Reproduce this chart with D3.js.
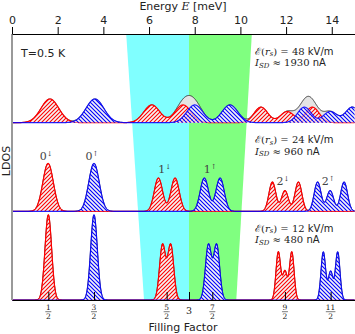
<!DOCTYPE html>
<html>
<head>
<meta charset="utf-8" />
<title>LDOS vs energy</title>
<style>
  body { margin: 0; background: #fff; }
  svg { display: block; }
  text { font-family: "DejaVu Sans", sans-serif; fill: #222; }
  .math { font-family: "DejaVu Serif", serif; }
  .axis path, .axis line { stroke: #000; }
  .axis text { font-size: 11px; fill: #222; }
</style>
<script src="https://d3js.org/d3.v7.min.js"></script>
</head>
<body>
<script>

// energy axis (meV)
let energyTicks = [0, 2, 4, 6, 8, 10, 12, 14];

// filling factor ticks, drawn at these energies
let fillLabels = ["1/2", "3/2", "5/2", "3", "7/2", "9/2", "11/2"];
let fillEnergies = [1.59, 3.59, 6.77, 7.75, 8.77, 11.95, 13.95];

// panels, top to bottom
let fields = [48, 24, 12];         // kV/m
let currents = [1930, 960, 480];   // nA

// Landau level of each peak in the lists below
let peakLevel = [0, 1, 1, 2, 2, 2];

// peak widths (meV) for level 0, 1, 2 in each panel
let widths = [
    [0.39, 0.35, 0.30],
    [0.23, 0.18, 0.15],
    [0.145, 0.13, 0.10]
];

// spin down (red) peaks: centre (meV) and height (fraction of panel)
let downE = [
    [1.66, 6.12, 7.49, 10.9, 12.05, 13.15],
    [1.58, 6.41, 7.14, 11.4, 11.95, 12.54],
    [1.59, 6.59, 6.95, 11.66, 11.95, 12.25]
];
let downH = [
    [0.267, 0.20, 0.20, 0.175, 0.125, 0.175],
    [0.54, 0.375, 0.375, 0.33, 0.233, 0.33],
    [0.96, 0.62, 0.62, 0.54, 0.32, 0.54]
];

// spin up (blue) peaks
let upE = [
    [3.63, 8.0, 9.54, 12.8, 13.93, 14.9],
    [3.59, 8.42, 9.11, 13.38, 13.93, 14.54],
    [3.59, 8.6, 8.96, 13.63, 13.95, 14.26]
];
let upH = [
    [0.267, 0.20, 0.20, 0.175, 0.125, 0.175],
    [0.54, 0.375, 0.375, 0.33, 0.233, 0.33],
    [0.96, 0.62, 0.62, 0.54, 0.32, 0.54]
];

// level labels (middle panel)
let levelNames = ["0", "0", "1", "1", "2", "2"];
let levelSpins = ["\u2193", "\u2191", "\u2193", "\u2191", "\u2193", "\u2191"];
let levelLabelE = [1.58, 3.59, 6.77, 8.77, 11.95, 13.93];
let levelLabelY = [0.58, 0.58, 0.43, 0.43, 0.30, 0.30];

// shaded regions: [top left, bottom left, top right, bottom right] in meV
let cyanBand = [5.0, 5.78, 7.75, 7.75];
let greenBand = [7.75, 7.75, 10.5, 9.82];

// layout
let W = 355, H = 334;
let mLeft = 12, mRight = 354.6, mTop = 34, mBottom = 300;
let panelH = (mBottom - mTop) / 3;

let x = d3.scaleLinear().domain([0, 15]).range([mLeft, mRight]);

let svg = d3.select("body").append("svg")
    .attr("width", W)
    .attr("height", H);

// hatch patterns
let defs = svg.append("defs");
function hatch(id, color, up) {
    let p = defs.append("pattern")
        .attr("id", id)
        .attr("patternUnits", "userSpaceOnUse")
        .attr("width", 4)
        .attr("height", 4);
    p.append("rect").attr("width", 4).attr("height", 4)
        .attr("fill", "#fff").attr("fill-opacity", 0.6);
    let d = up ? "M-1,1 l2,-2 M0,4 l4,-4 M3,5 l2,-2"
               : "M-1,3 l2,2 M0,0 l4,4 M3,-1 l2,2";
    p.append("path").attr("d", d)
        .attr("stroke", color).attr("stroke-width", 1.1);
}
hatch("hatchRed", "#ff0000", true);
hatch("hatchBlue", "#0000ff", false);

// shaded bands
function band(b, color) {
    let pts = [[x(b[0]), mTop], [x(b[2]), mTop], [x(b[3]), mBottom], [x(b[1]), mBottom]];
    svg.append("polygon")
        .attr("points", pts.map(p => p.join(",")).join(" "))
        .attr("fill", color);
}
band(cyanBand, "#80ffff");
band(greenBand, "#80ff80");

// energy grid for the curves
let grid = d3.range(0, 15.0001, 0.01);

function ldos(es, hs, sig) {
    return grid.map(e => {
        let v = 0;
        es.forEach((c, i) => {
            let s = sig[peakLevel[i]];
            v += hs[i] * Math.exp(-(e - c) * (e - c) / (2 * s * s));
        });
        return [e, v];
    });
}

fields.forEach((f, k) => {
    let base = mTop + panelH * (k + 1);
    let y = d3.scaleLinear().domain([0, 1]).range([base, base - panelH]);

    let down = ldos(downE[k], downH[k], widths[k]);
    let up = ldos(upE[k], upH[k], widths[k]);
    let total = down.map((d, i) => [d[0], d[1] + up[i][1]]);

    let area = d3.area().x(d => x(d[0])).y0(base).y1(d => y(d[1]));
    let line = d3.line().x(d => x(d[0])).y(d => y(d[1]));

    let g = svg.append("g");

    g.append("path").attr("d", area(total))
        .attr("fill", "#e4e4e4");
    g.append("path").attr("d", line(total))
        .attr("fill", "none").attr("stroke", "#333").attr("stroke-width", 1);

    g.append("path").attr("d", area(down))
        .attr("fill", "url(#hatchRed)");
    g.append("path").attr("d", line(down))
        .attr("fill", "none").attr("stroke", "#ff0000").attr("stroke-width", 1.2);

    g.append("path").attr("d", area(up))
        .attr("fill", "url(#hatchBlue)");
    g.append("path").attr("d", line(up))
        .attr("fill", "none").attr("stroke", "#0000ff").attr("stroke-width", 1.2)
        .attr("stroke-opacity", 0.85);

    // field and current
    let t = g.append("text").attr("class", "math")
        .attr("x", 255).attr("y", base - panelH + 20.5)
        .style("font-size", "10px");
    t.append("tspan").text("\u2130(");
    t.append("tspan").style("font-style", "italic").text("r");
    t.append("tspan").attr("dy", 1.5).style("font-size", "7px").style("font-style", "italic").text("s");
    t.append("tspan").attr("dy", -1.5).text(") = " + f + " ");
    t.append("tspan").style("font-family", "DejaVu Sans, sans-serif").text("kV/m");

    let t2 = g.append("text").attr("class", "math")
        .attr("x", 255).attr("y", base - panelH + 32)
        .style("font-size", "10px");
    t2.append("tspan").style("font-style", "italic").text("I");
    t2.append("tspan").attr("dy", 1.5).style("font-size", "7px").style("font-style", "italic").text("SD");
    t2.append("tspan").attr("dy", -1.5).text(" \u2248 " + currents[k] + " ");
    t2.append("tspan").style("font-family", "DejaVu Sans, sans-serif").text("nA");

    if (k == 1) {
        levelNames.forEach((n, i) => {
            let lt = g.append("text").attr("class", "math")
                .attr("x", x(levelLabelE[i]) - 2)
                .attr("y", y(levelLabelY[i]))
                .attr("text-anchor", "middle")
                .style("font-size", "11px")
                .style("fill", "#444");
            lt.append("tspan").text(n);
            lt.append("tspan").attr("dy", -4).style("font-size", "7px").text(levelSpins[i]);
        });
    }
});

// temperature
svg.append("text")
    .attr("x", 21).attr("y", 57)
    .style("font-size", "11px")
    .text("T=0.5 K");

// left axis line
svg.append("line")
    .attr("x1", mLeft).attr("x2", mLeft)
    .attr("y1", mTop).attr("y2", mBottom)
    .attr("stroke", "#999").attr("stroke-width", 2);

// top energy axis
svg.append("g")
    .attr("class", "axis")
    .attr("transform", "translate(0," + mTop + ")")
    .call(d3.axisTop(x).tickValues(energyTicks).tickSize(7).tickPadding(3).tickSizeOuter(0));

let et = svg.append("text")
    .attr("x", 183).attr("y", 10)
    .attr("text-anchor", "middle")
    .style("font-size", "11px");
et.append("tspan").text("Energy ");
et.append("tspan").attr("class", "math").style("font-style", "italic").text("E");
et.append("tspan").text(" [meV]");

// bottom filling factor axis
svg.append("g")
    .attr("class", "axis")
    .attr("transform", "translate(0," + mBottom + ")")
    .call(d3.axisBottom(x).tickValues(fillEnergies).tickSize(-8).tickSizeOuter(0).tickFormat(""));

fillLabels.forEach((lab, i) => {
    let cx = x(fillEnergies[i]);
    let parts = lab.split("/");
    if (parts.length == 1) {
        svg.append("text").attr("class", "math")
            .attr("x", cx).attr("y", 314)
            .attr("text-anchor", "middle")
            .style("font-size", "9.5px")
            .text(lab);
        return;
    }
    let half = parts[0].length > 1 ? 4.8 : 3;
    svg.append("text").attr("class", "math")
        .attr("x", cx).attr("y", 309.5)
        .attr("text-anchor", "middle")
        .style("font-size", "7.5px")
        .text(parts[0]);
    svg.append("line")
        .attr("x1", cx - half).attr("x2", cx + half)
        .attr("y1", 311.7).attr("y2", 311.7)
        .attr("stroke", "#222").attr("stroke-width", 0.6);
    svg.append("text").attr("class", "math")
        .attr("x", cx).attr("y", 318.8)
        .attr("text-anchor", "middle")
        .style("font-size", "7.5px")
        .text(parts[1]);
});

svg.append("text")
    .attr("x", 183).attr("y", 331)
    .attr("text-anchor", "middle")
    .style("font-size", "11px")
    .text("Filling Factor");

// LDOS label
svg.append("text")
    .attr("transform", "translate(10,161) rotate(-90)")
    .attr("text-anchor", "middle")
    .style("font-size", "11px")
    .text("LDOS");

</script>
</body>
</html>
